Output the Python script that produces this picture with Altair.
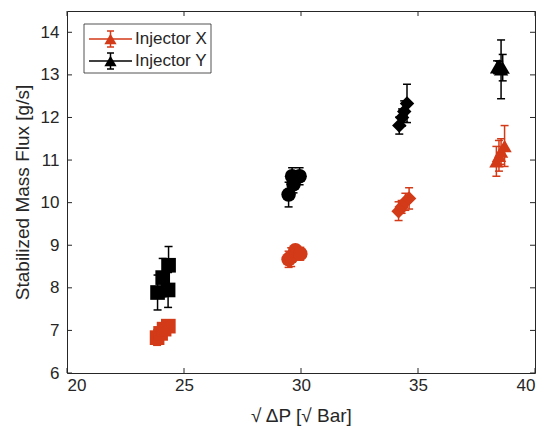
import altair as alt
import pandas as pd

# ---- data ----
levels = ["P1", "P2", "P3", "P4"]
level_shapes = ["square", "circle", "diamond", "triangle-up"]

# Injector X (red)
x_inj_x = [23.85, 24.00, 24.15, 24.33,
           29.47, 29.58, 29.76, 29.97,
           34.17, 34.30, 34.46, 34.62,
           38.35, 38.46, 38.55, 38.70]
y_inj_x = [6.83, 6.93, 7.03, 7.10,
           8.67, 8.72, 8.88, 8.80,
           9.80, 9.90, 10.02, 10.10,
           10.97, 11.10, 11.20, 11.33]
e_inj_x = [0.18, 0.12, 0.12, 0.12,
           0.19, 0.22, 0.12, 0.15,
           0.22, 0.15, 0.20, 0.25,
           0.35, 0.36, 0.30, 0.48]

# Injector Y (black)
x_inj_y = [23.87, 24.09, 24.32, 24.34,
           29.47, 29.62, 29.68, 29.94,
           34.20, 34.32, 34.41, 34.53,
           38.38, 38.47, 38.55, 38.62]
y_inj_y = [7.89, 8.24, 7.95, 8.53,
           10.19, 10.62, 10.43, 10.62,
           11.81, 12.00, 12.14, 12.33,
           13.18, 13.22, 13.13, 13.17]
e_inj_y = [0.41, 0.45, 0.41, 0.44,
           0.29, 0.20, 0.20, 0.20,
           0.20, 0.20, 0.25, 0.45,
           0.15, 0.10, 0.69, 0.31]

series_names = ["Injector X", "Injector Y"]
series_colors = ["#D33A17", "#000000"]

x_ticks = [20, 25, 30, 35, 40]
y_ticks = [6, 7, 8, 9, 10, 11, 12, 13, 14]

# ---- layout / style ----
W, H = 468, 362
TXT = "#262626"
FONT = "Liberation Sans"
LBL = 17
TTL = 19


def build_df(xs, ys, es):
    return pd.DataFrame({
        "x": xs, "y": ys, "lo": [a - b for a, b in zip(ys, es)],
        "hi": [a + b for a, b in zip(ys, es)],
        "level": [levels[i // 4] for i in range(len(xs))],
    })


xscale = alt.Scale(domain=[20, 40], nice=False, zero=False)
yscale = alt.Scale(domain=[6, 14.5], nice=False, zero=False)
xaxis = alt.Axis(values=x_ticks, title="√ ΔP [√ Bar]", ticks=False, tickSize=0,
                 domain=False, grid=False, labelPadding=4, titlePadding=13,
                 labelFontSize=LBL, titleFontSize=TTL, labelColor=TXT, titleColor=TXT,
                 labelFont=FONT, titleFont=FONT, titleFontWeight="normal")
yaxis = alt.Axis(values=y_ticks, title="Stabilized Mass Flux [g/s]", ticks=False, tickSize=0,
                 domain=False, grid=False, labelPadding=8, titlePadding=8,
                 labelFontSize=LBL, titleFontSize=TTL, labelColor=TXT, titleColor=TXT,
                 labelFont=FONT, titleFont=FONT, titleFontWeight="normal")

X = lambda f: alt.X(f, scale=xscale, axis=xaxis)
Y = lambda f: alt.Y(f, scale=yscale, axis=yaxis)

layers = []
for xs, ys, es, col in [(x_inj_x, y_inj_x, e_inj_x, series_colors[0]),
                        (x_inj_y, y_inj_y, e_inj_y, series_colors[1])]:
    df = build_df(xs, ys, es)
    base = alt.Chart(df)
    layers.append(base.mark_rule(color=col, strokeWidth=1.5).encode(
        x=X("x:Q"), y=Y("lo:Q"), y2="hi:Q"))
    for f in ["lo:Q", "hi:Q"]:
        layers.append(base.mark_tick(color=col, orient="horizontal", size=8,
                                     thickness=1.5, opacity=1).encode(x=X("x:Q"), y=Y(f)))
    layers.append(base.mark_point(filled=True, opacity=1, color=col).encode(
        x=X("x:Q"), y=Y("y:Q"),
        shape=alt.Shape("level:N", scale=alt.Scale(domain=levels, range=level_shapes), legend=None),
        size=alt.Size("level:O", scale=alt.Scale(domain=levels, range=[215, 205, 265, 280]), legend=None),
    ))

# inward ticks on all four sides
xt = alt.Chart(pd.DataFrame({"t": x_ticks}))
yt = alt.Chart(pd.DataFrame({"t": y_ticks}))
tick_len = 5
layers.append(xt.mark_rule(color=TXT, strokeWidth=1).encode(
    x=X("t:Q"), y=alt.value(H), y2=alt.value(H - tick_len)))
layers.append(xt.mark_rule(color=TXT, strokeWidth=1).encode(
    x=X("t:Q"), y=alt.value(0), y2=alt.value(tick_len)))
layers.append(yt.mark_rule(color=TXT, strokeWidth=1).encode(
    y=Y("t:Q"), x=alt.value(0), x2=alt.value(tick_len)))
layers.append(yt.mark_rule(color=TXT, strokeWidth=1).encode(
    y=Y("t:Q"), x=alt.value(W), x2=alt.value(W - tick_len)))

# manual legend (line + errorbar + triangle, as in the reference)
one = alt.Data(values=[{}])
lg = alt.Chart(one)
layers.append(lg.mark_rect(fill="white", stroke=TXT, strokeWidth=0.8).encode(
    x=alt.value(17), x2=alt.value(144), y=alt.value(13), y2=alt.value(62)))
for name, col, cy in [(series_names[0], series_colors[0], 28),
                      (series_names[1], series_colors[1], 50)]:
    layers.append(lg.mark_rule(color=col, strokeWidth=1.5).encode(
        x=alt.value(22), x2=alt.value(65), y=alt.value(cy)))
    layers.append(lg.mark_rule(color=col, strokeWidth=1.5).encode(
        x=alt.value(43.5), y=alt.value(cy - 8), y2=alt.value(cy + 8)))
    for dy in (-8, 8):
        layers.append(lg.mark_rule(color=col, strokeWidth=1.5).encode(
            x=alt.value(40), x2=alt.value(47), y=alt.value(cy + dy)))
    layers.append(lg.mark_point(filled=True, opacity=1, color=col, shape="triangle-up",
                                size=150).encode(x=alt.value(43.5), y=alt.value(cy)))
    layers.append(lg.mark_text(align="left", baseline="middle", fontSize=LBL, font=FONT,
                               color=TXT).encode(
        x=alt.value(68), y=alt.value(cy), text=alt.value(name)))

chart = alt.layer(*layers).properties(
    width=W, height=H,
    padding={"left": 67, "top": 11, "right": 10, "bottom": 57},
    autosize=alt.AutoSizeParams(type="none"),
    background="white",
).configure_view(stroke=TXT, strokeWidth=1)

chart.save("out.html", embed_options={"renderer": "svg", "actions": False})
